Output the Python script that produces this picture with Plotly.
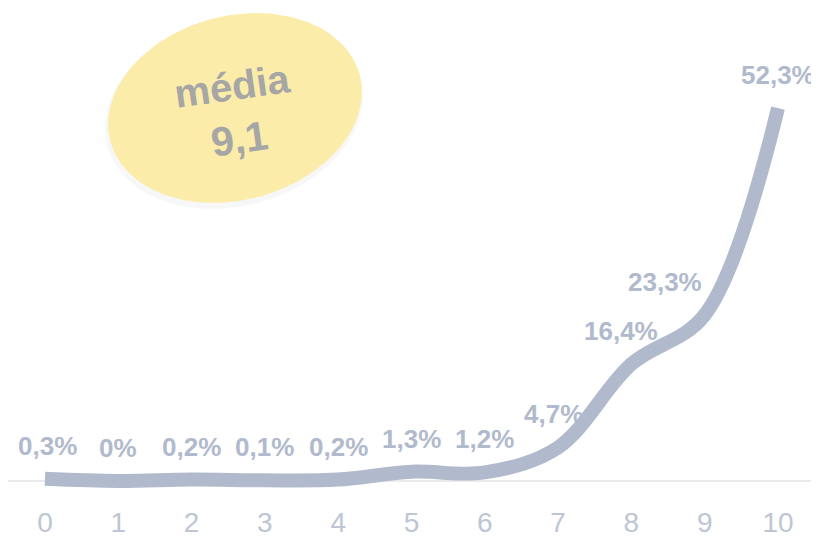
import numpy as np
import plotly.graph_objects as go

notas = list(range(11))
percentuais = [0.3, 0, 0.2, 0.1, 0.2, 1.3, 1.2, 4.7, 16.4, 23.3, 52.3]
rotulos = ["0,3%", "0%", "0,2%", "0,1%", "0,2%", "1,3%", "1,2%", "4,7%", "16,4%", "23,3%", "52,3%"]
media_texto = "9,1"

LINE = "#b1bacd"
FONT = "Liberation Sans, Arial, sans-serif"

# the page body adds 8px, so the figure is 811x531 and sits at (8, 8)
OFF = 8
W, H = 819 - OFF, 539 - OFF
PLOT_B = 499  # bottom of plot area, page pixels
X0_PX, ZERO_PX = 45, 481  # page pixels of x=0 and y=0
px_per_x = 73.3
px_per_y = 7.13


def ellipse(cx, cy, a, b, deg):
    t = np.linspace(0, 2 * np.pi, 240)
    ang = np.deg2rad(deg)
    ex = cx + a * np.cos(t) * np.cos(ang) - b * np.sin(t) * np.sin(ang)
    ey = cy + a * np.cos(t) * np.sin(ang) + b * np.sin(t) * np.cos(ang)
    return ex, ey


fig = go.Figure()

# yellow "média" badge, drawn in a page-pixel overlay
for (ex, ey), color in [
    (ellipse(234, 112, 131, 94, -15), "rgba(200,200,200,0.15)"),
    (ellipse(235, 108, 129, 92, -15), "#fbeca9"),
]:
    fig.add_trace(
        go.Scatter(
            x=ex, y=ey, mode="lines", fill="toself",
            line=dict(width=0), fillcolor=color,
            xaxis="x2", yaxis="y2", hoverinfo="skip", showlegend=False,
        )
    )

fig.add_trace(
    go.Scatter(
        x=notas,
        y=percentuais,
        mode="lines",
        line=dict(color=LINE, width=14, shape="spline", smoothing=1.0),
        hoverinfo="skip",
        showlegend=False,
    )
)

xshift = [2, 0, 0, 0, 0, 0, 0, -5, -10, -40, 0]
for x, y, txt, dx in zip(notas, percentuais, rotulos, xshift):
    fig.add_annotation(
        x=x, y=y, text=txt, showarrow=False, yshift=33, xshift=dx,
        font=dict(family=FONT, size=26, color=LINE, weight="bold"),
    )

fig.add_annotation(
    x=232, y=86, xref="x2", yref="y2", text="média", showarrow=False, textangle=-8,
    font=dict(family=FONT, size=40, color="#a6a6a6", weight="bold"),
)
fig.add_annotation(
    x=239, y=139, xref="x2", yref="y2", text=media_texto, showarrow=False, textangle=-8,
    font=dict(family=FONT, size=41, color="#a6a6a6", weight="bold"),
)

fig.update_layout(
    width=W,
    height=H,
    margin=dict(l=0, r=0, t=0, b=539 - PLOT_B),
    paper_bgcolor="white",
    plot_bgcolor="white",
    xaxis=dict(
        range=[-(X0_PX - OFF) / px_per_x, (819 - X0_PX) / px_per_x],
        tickvals=notas,
        ticktext=[str(n) for n in notas],
        tickfont=dict(family=FONT, size=28, color="#bec5d4"),
        ticklabelstandoff=4,
        showgrid=False,
        zeroline=False,
        showline=False,
    ),
    yaxis=dict(
        range=[-(PLOT_B - ZERO_PX) / px_per_y, (ZERO_PX - OFF) / px_per_y],
        showticklabels=False,
        showgrid=False,
        zeroline=True,
        zerolinecolor="#ebebeb",
        zerolinewidth=2,
    ),
    xaxis2=dict(range=[OFF, 819], overlaying="x", visible=False),
    yaxis2=dict(range=[PLOT_B, OFF], overlaying="y", visible=False),
)

fig.write_html("out.html")
